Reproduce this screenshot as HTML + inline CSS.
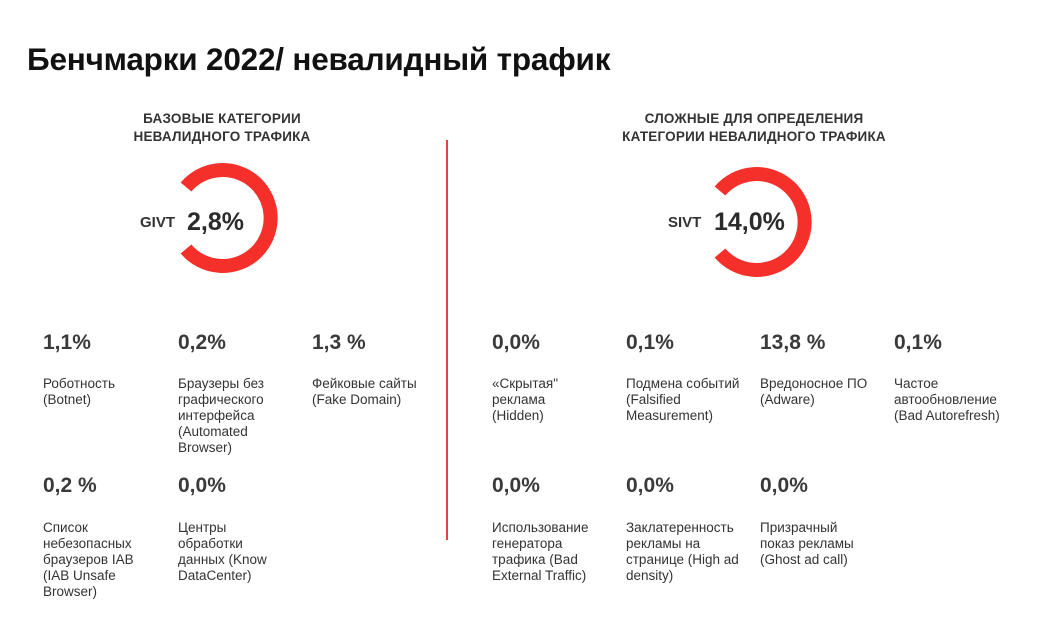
<!DOCTYPE html>
<html><head><meta charset="utf-8"><style>
body{margin:0;background:#fff;width:1059px;height:630px;position:relative;overflow:hidden;font-family:"Liberation Sans",sans-serif;color:#333}
.a{position:absolute;white-space:nowrap}
.t{left:27px;top:41px;font-size:31.5px;font-weight:bold;color:#111;letter-spacing:-0.2px}
.h{font-size:13.5px;font-weight:bold;text-align:center;line-height:18px;color:#333;transform:translateX(-50%);letter-spacing:0.2px}
.v{font-size:21px;font-weight:bold;color:#3a3a3a}
.l{font-size:13.5px;line-height:16px;color:#333}
</style></head><body>
<div class="a t">Бенчмарки 2022/ невалидный трафик</div>
<div class="a h" style="left:222px;top:110px">БАЗОВЫЕ КАТЕГОРИИ<br>НЕВАЛИДНОГО ТРАФИКА</div>
<div class="a h" style="left:754px;top:110px">СЛОЖНЫЕ ДЛЯ ОПРЕДЕЛЕНИЯ<br>КАТЕГОРИИ НЕВАЛИДНОГО ТРАФИКА</div>
<div class="a" style="left:446px;top:140px;width:1.5px;height:400px;background:#e8413a"></div>
<svg class="a" style="left:0;top:0" width="1059" height="630">
<path d="M186 187 A48 48 0 1 1 186 249" fill="none" stroke="#f5302a" stroke-width="14"/>
<path d="M720 191 A48 48 0 1 1 720 253" fill="none" stroke="#f5302a" stroke-width="14"/>
</svg>
<div class="a" style="left:140px;top:214px;font-size:15px;font-weight:bold">GIVT</div>
<div class="a" style="left:187px;top:208px;font-size:25px;font-weight:bold;color:#2b2b2b">2,8%</div>
<div class="a" style="left:668px;top:214px;font-size:15px;font-weight:bold">SIVT</div>
<div class="a" style="left:714px;top:208px;font-size:25px;font-weight:bold;color:#2b2b2b">14,0%</div>

<div class="a v" style="left:43px;top:331px">1,1%</div>
<div class="a l" style="left:43px;top:376px">Роботность<br>(Botnet)</div>
<div class="a v" style="left:178px;top:331px">0,2%</div>
<div class="a l" style="left:178px;top:376px">Браузеры без<br>графического<br>интерфейса<br>(Automated<br>Browser)</div>
<div class="a v" style="left:312px;top:331px">1,3 %</div>
<div class="a l" style="left:312px;top:376px">Фейковые сайты<br>(Fake Domain)</div>
<div class="a v" style="left:43px;top:474px">0,2 %</div>
<div class="a l" style="left:43px;top:520px">Список<br>небезопасных<br>браузеров IAB<br>(IAB Unsafe<br>Browser)</div>
<div class="a v" style="left:178px;top:474px">0,0%</div>
<div class="a l" style="left:178px;top:520px">Центры<br>обработки<br>данных (Know<br>DataCenter)</div>

<div class="a v" style="left:492px;top:331px">0,0%</div>
<div class="a l" style="left:492px;top:376px">«Скрытая"<br>реклама<br>(Hidden)</div>
<div class="a v" style="left:626px;top:331px">0,1%</div>
<div class="a l" style="left:626px;top:376px">Подмена событий<br>(Falsified<br>Measurement)</div>
<div class="a v" style="left:760px;top:331px">13,8 %</div>
<div class="a l" style="left:760px;top:376px">Вредоносное ПО<br>(Adware)</div>
<div class="a v" style="left:894px;top:331px">0,1%</div>
<div class="a l" style="left:894px;top:376px">Частое<br>автообновление<br>(Bad Autorefresh)</div>
<div class="a v" style="left:492px;top:474px">0,0%</div>
<div class="a l" style="left:492px;top:520px">Использование<br>генератора<br>трафика (Bad<br>External Traffic)</div>
<div class="a v" style="left:626px;top:474px">0,0%</div>
<div class="a l" style="left:626px;top:520px">Заклатеренность<br>рекламы на<br>странице (High ad<br>density)</div>
<div class="a v" style="left:760px;top:474px">0,0%</div>
<div class="a l" style="left:760px;top:520px">Призрачный<br>показ рекламы<br>(Ghost ad call)</div>
</body></html>
